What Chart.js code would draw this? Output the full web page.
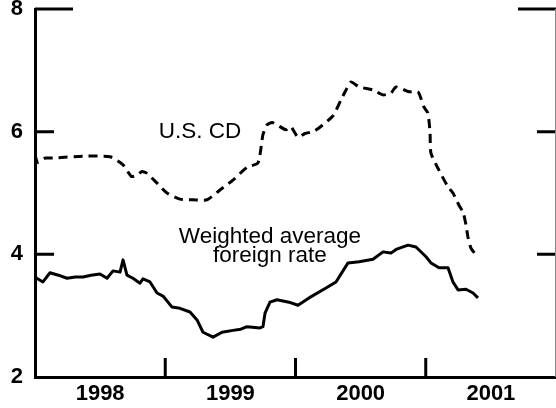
<!DOCTYPE html>
<html>
<head>
<meta charset="utf-8">
<title>U.S. CD vs weighted average foreign rate</title>
<script src="https://cdn.jsdelivr.net/npm/chart.js@4.4.0/dist/chart.umd.min.js"></script>
<style>
  html, body { margin: 0; padding: 0; background: #fff; }
  #chart { display: block; }
</style>
</head>
<body>
<canvas id="chart" width="556" height="408"></canvas>
<script>
// Series (x in fractional years, y in percent)
const cdDates = [1998.000, 1998.020, 1998.080, 1998.140, 1998.370, 1998.576, 1998.676, 1998.740,
  1998.783, 1998.821, 1998.860, 1998.937, 1999.013, 1999.113, 1999.213, 1999.321, 1999.420,
  1999.520, 1999.628, 1999.712, 1999.750, 1999.781, 1999.820, 1999.858, 1999.927, 1999.965,
  2000.019, 2000.073, 2000.134, 2000.180, 2000.288, 2000.349, 2000.388, 2000.426, 2000.488,
  2000.595, 2000.672, 2000.733, 2000.772, 2000.871, 2000.940, 2000.987, 2001.017, 2001.033,
  2001.040, 2001.102, 2001.171, 2001.209, 2001.255, 2001.286, 2001.309, 2001.324, 2001.347,
  2001.386];
const cdRates = [5.62, 5.50, 5.57, 5.57, 5.60, 5.59, 5.46, 5.27,
  5.29, 5.35, 5.32, 5.16, 5.00, 4.90, 4.89, 4.89, 5.05,
  5.21, 5.42, 5.49, 5.95, 6.11, 6.15, 6.11, 6.03, 6.08,
  5.91, 5.97, 6.00, 6.06, 6.26, 6.52, 6.68, 6.81, 6.73,
  6.68, 6.60, 6.63, 6.73, 6.65, 6.65, 6.40, 6.30, 5.98,
  5.65, 5.37, 5.10, 5.00, 4.80, 4.69, 4.48, 4.28, 4.10,
  3.99];

const fxDates = [1998.000, 1998.013, 1998.061, 1998.115, 1998.180, 1998.246, 1998.310, 1998.369,
  1998.430, 1998.499, 1998.553, 1998.599, 1998.653, 1998.676, 1998.706, 1998.752, 1998.806,
  1998.829, 1998.883, 1998.937, 1998.983, 1999.052, 1999.113, 1999.190, 1999.244, 1999.290,
  1999.367, 1999.436, 1999.520, 1999.580, 1999.628, 1999.727, 1999.750, 1999.766, 1999.804,
  1999.858, 1999.950, 2000.019, 2000.104, 2000.234, 2000.311, 2000.403, 2000.488, 2000.595,
  2000.672, 2000.733, 2000.772, 2000.864, 2000.925, 2001.002, 2001.040, 2001.102, 2001.171,
  2001.209, 2001.248, 2001.309, 2001.363, 2001.401];
const fxRates = [3.64, 3.61, 3.55, 3.70, 3.66, 3.61, 3.63, 3.63,
  3.66, 3.68, 3.61, 3.73, 3.71, 3.91, 3.66, 3.61, 3.53,
  3.60, 3.55, 3.37, 3.32, 3.14, 3.12, 3.06, 2.93, 2.73,
  2.65, 2.73, 2.76, 2.78, 2.82, 2.80, 2.82, 3.04, 3.22,
  3.26, 3.22, 3.17, 3.29, 3.45, 3.55, 3.86, 3.88, 3.92,
  4.04, 4.02, 4.08, 4.15, 4.12, 3.96, 3.86, 3.78, 3.78,
  3.55, 3.42, 3.43, 3.37, 3.29];

const yearTicks = [1998, 1999, 2000, 2001];
const rateTicks = [2, 4, 6, 8];

const FONT = '"Liberation Sans", Arial, Helvetica, sans-serif';
Chart.defaults.font.family = FONT;
Chart.defaults.color = '#000';

// Inward tick marks on the frame, plus the thin right edge
const frameTicks = {
  id: 'frameTicks',
  afterDraw(chart) {
    const { ctx, chartArea, scales } = chart;
    const x = scales.x, y = scales.y;
    ctx.save();
    ctx.strokeStyle = '#000';
    ctx.lineWidth = 3;
    ctx.lineCap = 'butt';
    yearTicks.slice(1).forEach((yr) => {
      const px = x.getPixelForValue(yr);
      ctx.beginPath();
      ctx.moveTo(px, chartArea.bottom);
      ctx.lineTo(px, chartArea.bottom - 19);
      ctx.stroke();
    });
    rateTicks.slice(1).forEach((v) => {
      const py = y.getPixelForValue(v);
      const len = v === 8 ? 38 : 19;
      ctx.beginPath();
      ctx.moveTo(chartArea.left, py);
      ctx.lineTo(chartArea.left + len, py);
      ctx.moveTo(chartArea.right, py);
      ctx.lineTo(chartArea.right - len, py);
      ctx.stroke();
    });
    ctx.lineWidth = 1;
    ctx.strokeStyle = '#888';
    ctx.beginPath();
    ctx.moveTo(chartArea.right - 0.5, y.getPixelForValue(8));
    ctx.lineTo(chartArea.right - 0.5, chartArea.bottom);
    ctx.stroke();
    ctx.restore();
  },
};

// Series labels written inside the plot
const seriesLabels = {
  id: 'seriesLabels',
  afterDatasetsDraw(chart) {
    const { ctx, scales } = chart;
    const x = scales.x, y = scales.y;
    ctx.save();
    ctx.fillStyle = '#000';
    ctx.font = '22.5px ' + FONT;
    ctx.textAlign = 'center';
    ctx.textBaseline = 'alphabetic';
    ctx.fillText('U.S. CD', x.getPixelForValue(1999.267), y.getPixelForValue(5.9));
    ctx.fillText('Weighted average', x.getPixelForValue(1999.804), y.getPixelForValue(4.18));
    ctx.fillText('foreign rate', x.getPixelForValue(1999.804), y.getPixelForValue(3.875));
    ctx.restore();
  },
};

const toPoints = (dates, values) => dates.map((d, i) => ({ x: d, y: values[i] }));

new Chart(document.getElementById('chart'), {
  type: 'line',
  data: {
    datasets: [
      {
        label: 'U.S. CD',
        data: toPoints(cdDates, cdRates),
        borderColor: '#000',
        borderWidth: 3,
        borderDash: [9, 6],
        pointRadius: 0,
        tension: 0.2,
        fill: false,
      },
      {
        label: 'Weighted average foreign rate',
        data: toPoints(fxDates, fxRates),
        borderColor: '#000',
        borderWidth: 3,
        borderJoinStyle: 'round',
        pointRadius: 0,
        tension: 0,
        fill: false,
      },
    ],
  },
  options: {
    responsive: false,
    animation: false,
    devicePixelRatio: 1,
    layout: { padding: { top: 9, right: 0, bottom: 0, left: 0 } },
    scales: {
      x: {
        type: 'linear',
        min: 1998,
        max: 2002,
        grid: { display: false, drawTicks: false },
        border: { display: true, width: 3, color: '#000' },
        afterBuildTicks: (scale) => {
          scale.ticks = yearTicks.map((yr) => ({ value: yr + 0.5 }));
        },
        afterFit: (scale) => {
          scale.height = 31;
          scale.paddingLeft = 0;
          scale.paddingRight = 0;
        },
        ticks: {
          autoSkip: false,
          maxRotation: 0,
          padding: 4,
          font: { size: 22, weight: 'bold' },
          callback: (value) => String(Math.floor(value)),
        },
      },
      y: {
        min: 2,
        max: 8,
        grid: { display: false, drawTicks: false },
        border: { display: true, width: 3, color: '#000' },
        afterBuildTicks: (scale) => {
          scale.ticks = rateTicks.map((v) => ({ value: v }));
        },
        afterFit: (scale) => {
          scale.width = 35;
          scale.paddingTop = 0;
          scale.paddingBottom = 0;
        },
        ticks: {
          padding: 12,
          font: { size: 22, weight: 'bold' },
        },
      },
    },
    plugins: {
      legend: { display: false },
      tooltip: { enabled: false },
    },
  },
  plugins: [frameTicks, seriesLabels],
});
</script>
</body>
</html>
